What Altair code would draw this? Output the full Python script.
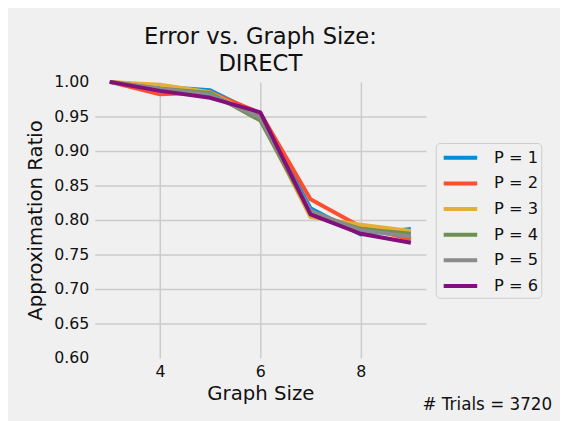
import altair as alt
import pandas as pd

graph_size = [3, 4, 5, 6, 7, 8, 9]
series_names = ["P = 1", "P = 2", "P = 3", "P = 4", "P = 5", "P = 6"]
p1 = [1.000, 0.993, 0.988, 0.952, 0.817, 0.779, 0.787]
p2 = [1.000, 0.982, 0.985, 0.955, 0.830, 0.790, 0.772]
p3 = [1.000, 0.996, 0.985, 0.947, 0.804, 0.793, 0.784]
p4 = [1.000, 0.990, 0.984, 0.944, 0.810, 0.787, 0.780]
p5 = [1.000, 0.990, 0.982, 0.948, 0.813, 0.785, 0.776]
p6 = [1.000, 0.987, 0.977, 0.956, 0.808, 0.780, 0.767]
colors = ["#008fd5", "#fc4f30", "#e5ae38", "#6d904f", "#8b8b8b", "#810f7c"]
y_ticks = [0.60, 0.65, 0.70, 0.75, 0.80, 0.85, 0.90, 0.95, 1.00]
x_ticks = [4, 6, 8]
title_lines = ["Error vs. Graph Size:", "DIRECT"]
footer = "# Trials = 3720"

rows = []
for name, vals in zip(series_names, [p1, p2, p3, p4, p5, p6]):
    for g, v in zip(graph_size, vals):
        rows.append({"Graph Size": g, "Ratio": v, "Series": name})
df = pd.DataFrame(rows)

FONT = "DejaVu Sans"
TXT = "#111111"

lines = alt.Chart(df).mark_line(strokeWidth=4, strokeJoin="round", strokeCap="butt").encode(
    x=alt.X("Graph Size:Q",
            scale=alt.Scale(domain=[2.7, 9.3], nice=False, zero=False),
            axis=alt.Axis(values=x_ticks, format="d", title="Graph Size",
                          ticks=False, domain=False, labelPadding=6,
                          titlePadding=4)),
    y=alt.Y("Ratio:Q",
            scale=alt.Scale(domain=[0.6, 1.0], nice=False, zero=False),
            axis=alt.Axis(values=y_ticks, format=".2f", title="Approximation Ratio",
                          ticks=False, domain=False, labelPadding=6, titlePadding=8,
                          gridOpacity={"condition": {"test": "datum.value > 0.999 || datum.value < 0.601", "value": 0}, "value": 1})),
    color=alt.Color("Series:N",
                    scale=alt.Scale(domain=series_names, range=colors),
                    legend=alt.Legend(orient="none", legendX=346, legendY=62, title=None,
                                      symbolType="M-0.7,0H2.7", symbolSize=400,
                                      symbolStrokeWidth=4, labelFontSize=16.5, labelFont=FONT,
                                      labelColor=TXT, labelOffset=32, padding=3,
                                      rowPadding=5, strokeColor="#cccccc",
                                      fillColor="#f0f0f0", cornerRadius=4)),
)

foot = alt.Chart(pd.DataFrame({"t": [footer]})).mark_text(
    align="right", baseline="alphabetic", fontSize=17, font=FONT, color=TXT
).encode(x=alt.value(464), y=alt.value(333), text="t:N")

chart = alt.layer(lines, foot).properties(
    width=336, height=280,
    title=alt.TitleParams(text=title_lines, fontSize=23, font=FONT, color=TXT,
                          fontWeight="normal", anchor="middle", lineHeight=27, offset=-2),
    background="#f0f0f0",
    autosize=alt.AutoSizeParams(type="none"),
    padding={"left": 88, "top": 72, "right": 136, "bottom": 61},
).configure_view(stroke=None, fill="#f0f0f0").configure_axis(
    gridColor="#cbcbcb", gridWidth=1.5, labelFont=FONT, labelFontSize=16,
    labelColor=TXT, titleFont=FONT, titleFontSize=20, titleColor=TXT,
    titleFontWeight="normal"
)

chart.save("out.html", embed_options={"renderer": "svg", "actions": False})
